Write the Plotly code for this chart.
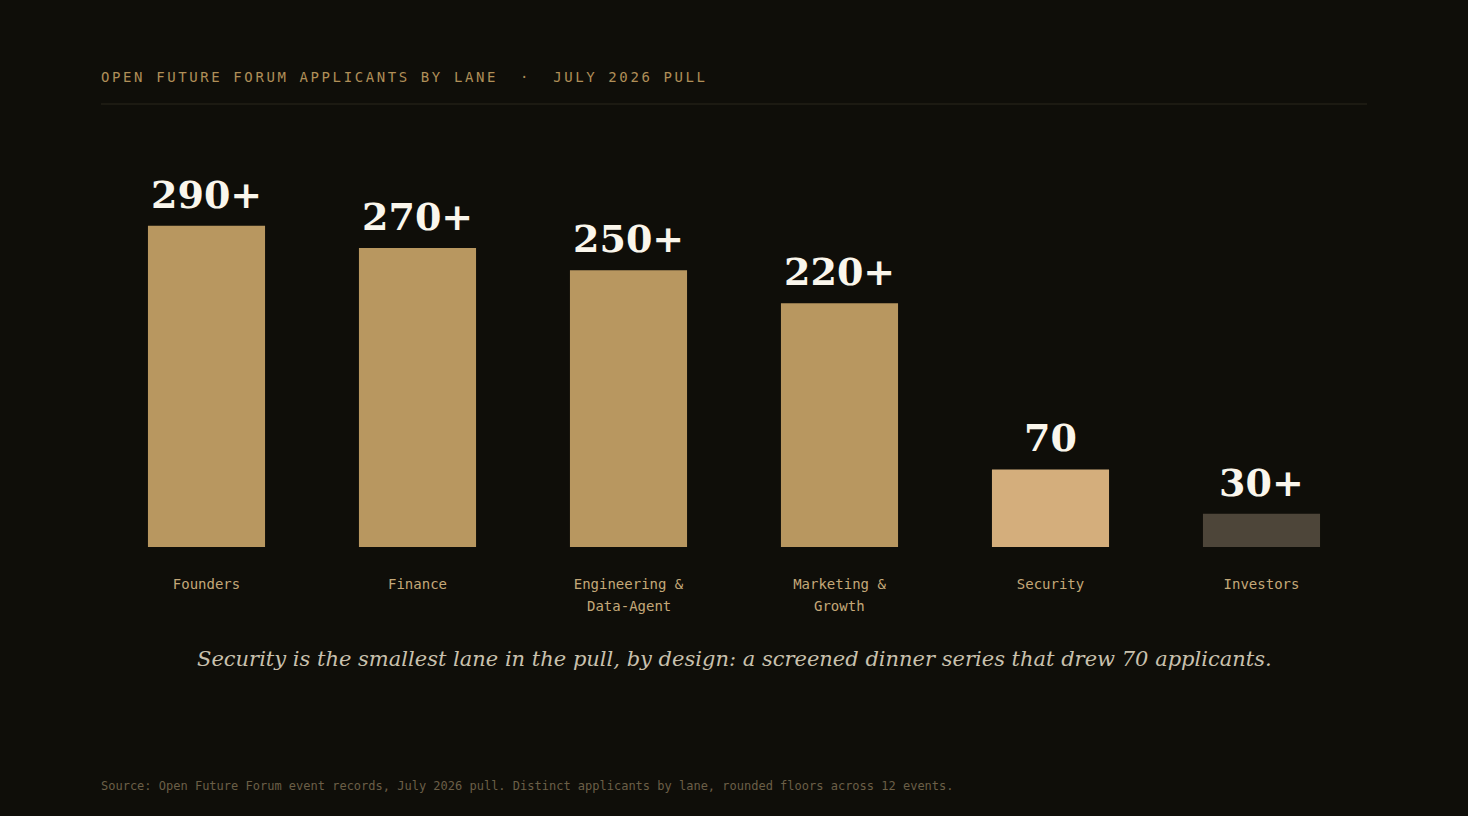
import plotly.graph_objects as go

categories = ["Founders", "Finance", "Engineering & Data-Agent", "Marketing & Growth", "Security", "Investors"]
label_line1 = ["Founders", "Finance", "Engineering &", "Marketing &", "Security", "Investors"]
label_line2 = ["", "", "Data-Agent", "Growth", "", ""]
values = [290, 270, 250, 220, 70, 30]
value_labels = ["290+", "270+", "250+", "220+", "70", "30+"]
bar_colors = ["#b89760", "#b89760", "#b89760", "#b89760", "#d4ae7c", "#4d4539"]

title_text = "OPEN FUTURE FORUM APPLICANTS BY LANE  ·  JULY 2026 PULL"
note_text = "Security is the smallest lane in the pull, by design: a screened dinner series that drew 70 applicants."
source_text = "Source: Open Future Forum event records, July 2026 pull. Distinct applicants by lane, rounded floors across 12 events."

BG = "#0f0e09"
MONO = "DejaVu Sans Mono"
SERIF = "DejaVu Serif"
LABEL_COLOR = "#c4a878"

fig = go.Figure()
fig.add_trace(go.Bar(
    x=categories, y=values,
    marker=dict(color=bar_colors, line=dict(width=0)),
    hoverinfo="skip",
))

for c, v, t in zip(categories, values, value_labels):
    fig.add_annotation(
        x=c, y=v, text=t, showarrow=False, yanchor="bottom", yshift=7,
        font=dict(family=SERIF, size=38, color="#faf6ec", weight="bold"),
    )

for c, t in zip(categories, label_line2):
    if t:
        fig.add_annotation(
            x=c, y=0, yref="paper", text=t, showarrow=False, yanchor="middle",
            yshift=-59, font=dict(family=MONO, size=14, color=LABEL_COLOR),
        )

fig.add_annotation(
    xref="paper", yref="paper", x=0, y=1, xanchor="left", yanchor="middle",
    text='<span style="letter-spacing:2.6px">' + title_text.replace(" ", "&nbsp;") + "</span>",
    yshift=27, xshift=-2, showarrow=False,
    font=dict(family=MONO, size=14, color="#b08f58"),
)
fig.add_shape(
    type="line", xref="paper", yref="paper", x0=0, x1=1, y0=1, y1=1,
    line=dict(color="#2a261c", width=1),
)
fig.add_annotation(
    xref="paper", yref="paper", x=0.5, y=0, xanchor="center", yanchor="middle",
    yshift=-112, text=note_text, showarrow=False,
    font=dict(family=SERIF, size=21, color="#c9c1ae", style="italic"),
)
fig.add_annotation(
    xref="paper", yref="paper", x=0, y=0, xanchor="left", yanchor="middle",
    yshift=-239, xshift=-2, text=source_text, showarrow=False,
    font=dict(family=MONO, size=12, color="#6b5f47"),
)

fig.update_layout(
    width=1468, height=816,
    paper_bgcolor=BG, plot_bgcolor=BG,
    margin=dict(l=101, r=101, t=104, b=269),
    bargap=0.445, showlegend=False,
    xaxis=dict(
        showgrid=False, zeroline=False, showline=False, ticks="",
        tickmode="array", tickvals=categories, ticktext=label_line1,
        tickfont=dict(family=MONO, size=14, color=LABEL_COLOR),
        ticklabelstandoff=27,
    ),
    yaxis=dict(range=[0, 400], visible=False, showgrid=False, zeroline=False),
)

fig.write_html("out.html")
